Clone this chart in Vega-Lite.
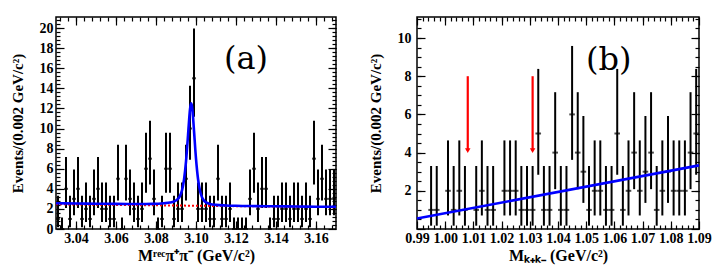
{
  "$schema": "https://vega.github.io/schema/vega-lite/v6.json",
  "padding": {"left": 9, "top": 15, "right": 0, "bottom": 2},
  "spacing": 25,
  "config": {
    "view": {"stroke": "black", "strokeWidth": 1.5},
    "font": "Liberation Serif",
    "axis": {"labelFont": "Liberation Serif", "labelFontWeight": "bold", "labelFontSize": 14, "labelColor": "black", "titleFont": "Liberation Serif", "titleFontWeight": "bold", "titleFontSize": 15, "titleColor": "black", "domain": false, "grid": false, "tickColor": "black", "tickWidth": 1.2, "labelOverlap": false, "labelFlush": false}
  },
  "datasets": {
    "a": [
      {"x":3.031,"n":1,"lo":0.173,"hi":3.300},{"x":3.033,"n":0,"lo":0,"hi":1.148},{"x":3.035,"n":4,"lo":2.086,"hi":7.163},{"x":3.037,"n":1,"lo":0.173,"hi":3.300},{"x":3.039,"n":3,"lo":1.367,"hi":5.918},
      {"x":3.041,"n":4,"lo":2.086,"hi":7.163},{"x":3.043,"n":1,"lo":0.173,"hi":3.300},{"x":3.045,"n":2,"lo":0.708,"hi":4.638},{"x":3.047,"n":1,"lo":0.173,"hi":3.300},{"x":3.049,"n":3,"lo":1.367,"hi":5.918},
      {"x":3.051,"n":4,"lo":2.086,"hi":7.163},{"x":3.053,"n":2,"lo":0.708,"hi":4.638},{"x":3.055,"n":2,"lo":0.708,"hi":4.638},{"x":3.057,"n":1,"lo":0.173,"hi":3.300},{"x":3.059,"n":1,"lo":0.173,"hi":3.300},
      {"x":3.061,"n":5,"lo":2.840,"hi":8.382},{"x":3.063,"n":0,"lo":0,"hi":1.148},{"x":3.065,"n":5,"lo":2.840,"hi":8.382},{"x":3.067,"n":3,"lo":1.367,"hi":5.918},{"x":3.069,"n":2,"lo":0.708,"hi":4.638},
      {"x":3.071,"n":1,"lo":0.173,"hi":3.300},{"x":3.073,"n":2,"lo":0.708,"hi":4.638},{"x":3.075,"n":6,"lo":3.620,"hi":9.584},{"x":3.077,"n":7,"lo":4.419,"hi":10.771},{"x":3.079,"n":3,"lo":1.367,"hi":5.918},
      {"x":3.081,"n":0,"lo":0,"hi":1.148},{"x":3.083,"n":1,"lo":0.173,"hi":3.300},{"x":3.085,"n":6,"lo":3.620,"hi":9.584},{"x":3.087,"n":6,"lo":3.620,"hi":9.584},{"x":3.089,"n":1,"lo":0.173,"hi":3.300},
      {"x":3.091,"n":2,"lo":0.708,"hi":4.638},{"x":3.093,"n":2,"lo":0.708,"hi":4.638},{"x":3.095,"n":5,"lo":2.840,"hi":8.382},{"x":3.097,"n":10,"lo":6.891,"hi":14.267},{"x":3.099,"n":15,"lo":11.173,"hi":19.954},
      {"x":3.101,"n":2,"lo":0.708,"hi":4.638},{"x":3.103,"n":2,"lo":0.708,"hi":4.638},{"x":3.105,"n":2,"lo":0.708,"hi":4.638},{"x":3.107,"n":1,"lo":0.173,"hi":3.300},{"x":3.109,"n":1,"lo":0.173,"hi":3.300},
      {"x":3.111,"n":5,"lo":2.840,"hi":8.382},{"x":3.113,"n":1,"lo":0.173,"hi":3.300},{"x":3.115,"n":1,"lo":0.173,"hi":3.300},{"x":3.117,"n":2,"lo":0.708,"hi":4.638},{"x":3.119,"n":0,"lo":0,"hi":1.148},
      {"x":3.121,"n":0,"lo":0,"hi":1.148},{"x":3.123,"n":0,"lo":0,"hi":1.148},{"x":3.125,"n":0,"lo":0,"hi":1.148},{"x":3.127,"n":3,"lo":1.367,"hi":5.918},{"x":3.129,"n":6,"lo":3.620,"hi":9.584},
      {"x":3.131,"n":2,"lo":0.708,"hi":4.638},{"x":3.133,"n":4,"lo":2.086,"hi":7.163},{"x":3.135,"n":4,"lo":2.086,"hi":7.163},{"x":3.137,"n":0,"lo":0,"hi":1.148},{"x":3.139,"n":1,"lo":0.173,"hi":3.300},
      {"x":3.141,"n":1,"lo":0.173,"hi":3.300},{"x":3.143,"n":2,"lo":0.708,"hi":4.638},{"x":3.145,"n":2,"lo":0.708,"hi":4.638},{"x":3.147,"n":1,"lo":0.173,"hi":3.300},{"x":3.149,"n":2,"lo":0.708,"hi":4.638},
      {"x":3.151,"n":2,"lo":0.708,"hi":4.638},{"x":3.153,"n":1,"lo":0.173,"hi":3.300},{"x":3.155,"n":2,"lo":0.708,"hi":4.638},{"x":3.157,"n":1,"lo":0.173,"hi":3.300},{"x":3.159,"n":7,"lo":4.419,"hi":10.771},
      {"x":3.161,"n":3,"lo":1.367,"hi":5.918},{"x":3.163,"n":5,"lo":2.840,"hi":8.382},{"x":3.165,"n":3,"lo":1.367,"hi":5.918},{"x":3.167,"n":3,"lo":1.367,"hi":5.918},{"x":3.169,"n":3,"lo":1.367,"hi":5.918}
    ],
    "afit": [
      {"x":3.030,"y":2.56},{"x":3.040,"y":2.54},{"x":3.050,"y":2.52},{"x":3.060,"y":2.50},{"x":3.070,"y":2.49},{"x":3.078,"y":2.50},
      {"x":3.084,"y":2.56},{"x":3.087,"y":2.63},{"x":3.089,"y":2.74},{"x":3.090,"y":2.84},{"x":3.091,"y":3.00},{"x":3.092,"y":3.30},
      {"x":3.093,"y":3.85},{"x":3.094,"y":4.9},{"x":3.095,"y":6.7},{"x":3.096,"y":9.3},{"x":3.0965,"y":10.7},{"x":3.097,"y":11.9},
      {"x":3.0975,"y":12.5},{"x":3.098,"y":12.2},{"x":3.0985,"y":11.2},{"x":3.099,"y":9.8},{"x":3.100,"y":7.0},{"x":3.101,"y":5.0},
      {"x":3.102,"y":3.8},{"x":3.103,"y":3.15},{"x":3.104,"y":2.82},{"x":3.105,"y":2.65},{"x":3.107,"y":2.5},{"x":3.110,"y":2.4},
      {"x":3.115,"y":2.34},{"x":3.120,"y":2.31},{"x":3.130,"y":2.28},{"x":3.140,"y":2.26},{"x":3.150,"y":2.24},{"x":3.160,"y":2.22},{"x":3.170,"y":2.21}
    ],
    "abkg": [{"x":3.03,"y":2.46},{"x":3.17,"y":2.17}],
    "b": [
      {"x":0.995,"n":1,"lo":0.173,"hi":3.300},{"x":0.997,"n":1,"lo":0.173,"hi":3.300},{"x":1.001,"n":2,"lo":0.708,"hi":4.638},{"x":1.003,"n":1,"lo":0.173,"hi":3.300},{"x":1.005,"n":2,"lo":0.708,"hi":4.638},
      {"x":1.007,"n":1,"lo":0.173,"hi":3.300},{"x":1.011,"n":1,"lo":0.173,"hi":3.300},{"x":1.013,"n":2,"lo":0.708,"hi":4.638},{"x":1.015,"n":1,"lo":0.173,"hi":3.300},{"x":1.017,"n":1,"lo":0.173,"hi":3.300},
      {"x":1.021,"n":2,"lo":0.708,"hi":4.638},{"x":1.023,"n":2,"lo":0.708,"hi":4.638},{"x":1.025,"n":2,"lo":0.708,"hi":4.638},{"x":1.027,"n":1,"lo":0.173,"hi":3.300},{"x":1.029,"n":1,"lo":0.173,"hi":3.300},
      {"x":1.031,"n":1,"lo":0.173,"hi":3.300},{"x":1.033,"n":5,"lo":2.840,"hi":8.382},{"x":1.035,"n":1,"lo":0.173,"hi":3.300},{"x":1.037,"n":1,"lo":0.173,"hi":3.300},{"x":1.039,"n":4,"lo":2.086,"hi":7.163},
      {"x":1.041,"n":1,"lo":0.173,"hi":3.300},{"x":1.043,"n":1,"lo":0.173,"hi":3.300},{"x":1.045,"n":6,"lo":3.620,"hi":9.584},{"x":1.047,"n":4,"lo":2.086,"hi":7.163},{"x":1.049,"n":3,"lo":1.367,"hi":5.918},
      {"x":1.051,"n":1,"lo":0.173,"hi":3.300},{"x":1.053,"n":2,"lo":0.708,"hi":4.638},{"x":1.055,"n":2,"lo":0.708,"hi":4.638},{"x":1.057,"n":1,"lo":0.173,"hi":3.300},{"x":1.059,"n":1,"lo":0.173,"hi":3.300},
      {"x":1.061,"n":5,"lo":2.840,"hi":8.382},{"x":1.063,"n":1,"lo":0.173,"hi":3.300},{"x":1.065,"n":2,"lo":0.708,"hi":4.638},{"x":1.067,"n":4,"lo":2.086,"hi":7.163},{"x":1.069,"n":2,"lo":0.708,"hi":4.638},
      {"x":1.071,"n":3,"lo":1.367,"hi":5.918},{"x":1.073,"n":4,"lo":2.086,"hi":7.163},{"x":1.075,"n":1,"lo":0.173,"hi":3.300},{"x":1.077,"n":2,"lo":0.708,"hi":4.638},{"x":1.079,"n":3,"lo":1.367,"hi":5.918},
      {"x":1.081,"n":2,"lo":0.708,"hi":4.638},{"x":1.083,"n":2,"lo":0.708,"hi":4.638},{"x":1.085,"n":2,"lo":0.708,"hi":4.638},{"x":1.087,"n":4,"lo":2.086,"hi":7.163},{"x":1.089,"n":5,"lo":2.840,"hi":8.382}
    ],
    "bfit": [{"x":0.99,"y":0.55},{"x":1.09,"y":3.33}],
    "arrows": [{"m":1.008,"top":8,"tip":4.1},{"m":1.031,"top":8,"tip":4.1}],
    "labela": [{"label":"(a)","x":3.125,"y":16.9}],
    "labelb": [{"label":"(b)","x":1.058,"y":8.86}]
  },
  "hconcat": [
    {
      "width": 280, "height": 212,
      "resolve": {"axis": {"x": "independent", "y": "independent"}},
      "layer": [
        {
          "data": {"name": "a"},
          "mark": {"type": "rule", "color": "#000", "strokeWidth": 2},
          "encoding": {
            "x": {"field": "x", "type": "quantitative", "scale": {"domain": [3.03, 3.17], "nice": false, "zero": false},
                  "axis": {"orient": "bottom", "values": [3.04,3.06,3.08,3.1,3.12,3.14,3.16], "format": ".2f", "ticks": false, "labelPadding": 2, "title": "Mʳᵉᶜπ⁺π⁻ (GeV/c²)", "titleFontSize": 16, "titlePadding": 2}},
            "y": {"field": "lo", "type": "quantitative", "scale": {"domain": [0, 21.1], "nice": false},
                  "axis": {"orient": "left", "values": [0,2,4,6,8,10,12,14,16,18,20], "ticks": false, "labelPadding": 3, "title": "Events/(0.002 GeV/c²)", "titlePadding": 14}},
            "y2": {"field": "hi"}
          }
        },
        {
          "data": {"name": "a"},
          "mark": {"type": "tick", "orient": "horizontal", "size": 4, "thickness": 2, "color": "#000"},
          "encoding": {
            "x": {"field": "x", "type": "quantitative", "scale": {"domain": [3.03, 3.17], "nice": false, "zero": false},
                  "axis": {"orient": "bottom", "values": [3.04,3.06,3.08,3.1,3.12,3.14,3.16], "labels": false, "tickSize": -8, "title": null}},
            "y": {"field": "n", "type": "quantitative", "scale": {"domain": [0, 21.1], "nice": false},
                  "axis": {"orient": "left", "values": [0,2,4,6,8,10,12,14,16,18,20], "labels": false, "tickSize": -8, "title": null}}
          }
        },
        {
          "data": {"name": "abkg"},
          "mark": {"type": "line", "color": "#ff0000", "strokeWidth": 2, "strokeDash": [2, 2]},
          "encoding": {
            "x": {"field": "x", "type": "quantitative", "scale": {"domain": [3.03, 3.17], "nice": false, "zero": false},
                  "axis": {"orient": "top", "values": [3.04,3.06,3.08,3.1,3.12,3.14,3.16], "labels": false, "tickSize": -8, "title": null}},
            "y": {"field": "y", "type": "quantitative", "scale": {"domain": [0, 21.1], "nice": false},
                  "axis": {"orient": "right", "values": [0,2,4,6,8,10,12,14,16,18,20], "labels": false, "tickSize": -8, "title": null}}
          }
        },
        {
          "data": {"name": "afit"},
          "mark": {"type": "line", "color": "#0000ff", "strokeWidth": 2.6, "interpolate": "monotone"},
          "encoding": {
            "x": {"field": "x", "type": "quantitative", "scale": {"domain": [3.03, 3.17], "nice": false, "zero": false},
                  "axis": {"orient": "bottom", "values": [3.032,3.036,3.04,3.044,3.048,3.052,3.056,3.06,3.064,3.068,3.072,3.076,3.08,3.084,3.088,3.092,3.096,3.1,3.104,3.108,3.112,3.116,3.12,3.124,3.128,3.132,3.136,3.14,3.144,3.148,3.152,3.156,3.16,3.164,3.168], "labels": false, "tickSize": -4, "title": null}},
            "y": {"field": "y", "type": "quantitative", "scale": {"domain": [0, 21.1], "nice": false},
                  "axis": {"orient": "left", "values": [0.4,0.8,1.2,1.6,2,2.4,2.8,3.2,3.6,4,4.4,4.8,5.2,5.6,6,6.4,6.8,7.2,7.6,8,8.4,8.8,9.2,9.6,10,10.4,10.8,11.2,11.6,12,12.4,12.8,13.2,13.6,14,14.4,14.8,15.2,15.6,16,16.4,16.8,17.2,17.6,18,18.4,18.8,19.2,19.6,20,20.4,20.8], "labels": false, "tickSize": -4, "title": null}}
          }
        },
        {
          "data": {"name": "labela"},
          "mark": {"type": "text", "font": "DejaVu Serif", "fontSize": 32, "color": "black"},
          "encoding": {
            "text": {"field": "label"},
            "x": {"field": "x", "type": "quantitative", "scale": {"domain": [3.03, 3.17], "nice": false, "zero": false},
                  "axis": {"orient": "top", "values": [3.032,3.036,3.04,3.044,3.048,3.052,3.056,3.06,3.064,3.068,3.072,3.076,3.08,3.084,3.088,3.092,3.096,3.1,3.104,3.108,3.112,3.116,3.12,3.124,3.128,3.132,3.136,3.14,3.144,3.148,3.152,3.156,3.16,3.164,3.168], "labels": false, "tickSize": -4, "title": null}},
            "y": {"field": "y", "type": "quantitative", "scale": {"domain": [0, 21.1], "nice": false},
                  "axis": {"orient": "right", "values": [0.4,0.8,1.2,1.6,2,2.4,2.8,3.2,3.6,4,4.4,4.8,5.2,5.6,6,6.4,6.8,7.2,7.6,8,8.4,8.8,9.2,9.6,10,10.4,10.8,11.2,11.6,12,12.4,12.8,13.2,13.6,14,14.4,14.8,15.2,15.6,16,16.4,16.8,17.2,17.6,18,18.4,18.8,19.2,19.6,20,20.4,20.8], "labels": false, "tickSize": -4, "title": null}}
          }
        }
      ]
    },
    {
      "width": 282, "height": 212,
      "resolve": {"axis": {"x": "independent", "y": "independent"}},
      "layer": [
        {
          "data": {"name": "b"},
          "mark": {"type": "rule", "color": "#000", "strokeWidth": 2},
          "encoding": {
            "x": {"field": "x", "type": "quantitative", "scale": {"domain": [0.99, 1.09], "nice": false, "zero": false},
                  "axis": {"orient": "bottom", "values": [0.99,1,1.01,1.02,1.03,1.04,1.05,1.06,1.07,1.08,1.09], "format": ".2f", "ticks": false, "labelPadding": 2, "title": "Mₖ₊ₖ₋ (GeV/c²)", "titleFontSize": 16, "titlePadding": 2}},
            "y": {"field": "lo", "type": "quantitative", "scale": {"domain": [0, 11.1], "nice": false},
                  "axis": {"orient": "left", "values": [2,4,6,8,10], "ticks": false, "labelPadding": 6, "title": "Events/(0.002 GeV/c²)", "titlePadding": 14}},
            "y2": {"field": "hi"}
          }
        },
        {
          "data": {"name": "b"},
          "mark": {"type": "tick", "orient": "horizontal", "size": 5.6, "thickness": 2, "color": "#000"},
          "encoding": {
            "x": {"field": "x", "type": "quantitative", "scale": {"domain": [0.99, 1.09], "nice": false, "zero": false},
                  "axis": {"orient": "bottom", "values": [0.99,1,1.01,1.02,1.03,1.04,1.05,1.06,1.07,1.08,1.09], "labels": false, "tickSize": -8, "title": null}},
            "y": {"field": "n", "type": "quantitative", "scale": {"domain": [0, 11.1], "nice": false},
                  "axis": {"orient": "left", "values": [0,2,4,6,8,10], "labels": false, "tickSize": -8, "title": null}}
          }
        },
        {
          "data": {"name": "bfit"},
          "mark": {"type": "line", "color": "#0000ff", "strokeWidth": 2.6},
          "encoding": {
            "x": {"field": "x", "type": "quantitative", "scale": {"domain": [0.99, 1.09], "nice": false, "zero": false},
                  "axis": {"orient": "top", "values": [0.99,1,1.01,1.02,1.03,1.04,1.05,1.06,1.07,1.08,1.09], "labels": false, "tickSize": -8, "title": null}},
            "y": {"field": "y", "type": "quantitative", "scale": {"domain": [0, 11.1], "nice": false},
                  "axis": {"orient": "right", "values": [0,2,4,6,8,10], "labels": false, "tickSize": -8, "title": null}}
          }
        },
        {
          "data": {"name": "arrows"},
          "mark": {"type": "rule", "color": "#ff0000", "strokeWidth": 2.2},
          "encoding": {
            "x": {"field": "m", "type": "quantitative", "scale": {"domain": [0.99, 1.09], "nice": false, "zero": false},
                  "axis": {"orient": "bottom", "values": [0.992,0.994,0.996,0.998,1,1.002,1.004,1.006,1.008,1.01,1.012,1.014,1.016,1.018,1.02,1.022,1.024,1.026,1.028,1.03,1.032,1.034,1.036,1.038,1.04,1.042,1.044,1.046,1.048,1.05,1.052,1.054,1.056,1.058,1.06,1.062,1.064,1.066,1.068,1.07,1.072,1.074,1.076,1.078,1.08,1.082,1.084,1.086,1.088], "labels": false, "tickSize": -4, "title": null}},
            "y": {"field": "top", "type": "quantitative", "scale": {"domain": [0, 11.1], "nice": false},
                  "axis": {"orient": "left", "values": [0.5,1,1.5,2,2.5,3,3.5,4,4.5,5,5.5,6,6.5,7,7.5,8,8.5,9,9.5,10,10.5,11], "labels": false, "tickSize": -4, "title": null}},
            "y2": {"field": "tip"}
          }
        },
        {
          "data": {"name": "arrows"},
          "mark": {"type": "point", "shape": "triangle-down", "filled": true, "color": "#ff0000", "size": 30, "opacity": 1},
          "encoding": {
            "x": {"field": "m", "type": "quantitative", "scale": {"domain": [0.99, 1.09], "nice": false, "zero": false},
                  "axis": {"orient": "top", "values": [0.992,0.994,0.996,0.998,1,1.002,1.004,1.006,1.008,1.01,1.012,1.014,1.016,1.018,1.02,1.022,1.024,1.026,1.028,1.03,1.032,1.034,1.036,1.038,1.04,1.042,1.044,1.046,1.048,1.05,1.052,1.054,1.056,1.058,1.06,1.062,1.064,1.066,1.068,1.07,1.072,1.074,1.076,1.078,1.08,1.082,1.084,1.086,1.088], "labels": false, "tickSize": -4, "title": null}},
            "y": {"field": "tip", "type": "quantitative", "scale": {"domain": [0, 11.1], "nice": false},
                  "axis": {"orient": "right", "values": [0.5,1,1.5,2,2.5,3,3.5,4,4.5,5,5.5,6,6.5,7,7.5,8,8.5,9,9.5,10,10.5,11], "labels": false, "tickSize": -4, "title": null}}
          }
        },
        {
          "data": {"name": "labelb"},
          "mark": {"type": "text", "font": "DejaVu Serif", "fontSize": 32, "color": "black"},
          "encoding": {
            "text": {"field": "label"},
            "x": {"field": "x", "type": "quantitative", "scale": {"domain": [0.99, 1.09], "nice": false, "zero": false}, "axis": null},
            "y": {"field": "y", "type": "quantitative", "scale": {"domain": [0, 11.1], "nice": false}, "axis": null}
          }
        }
      ]
    }
  ]
}
